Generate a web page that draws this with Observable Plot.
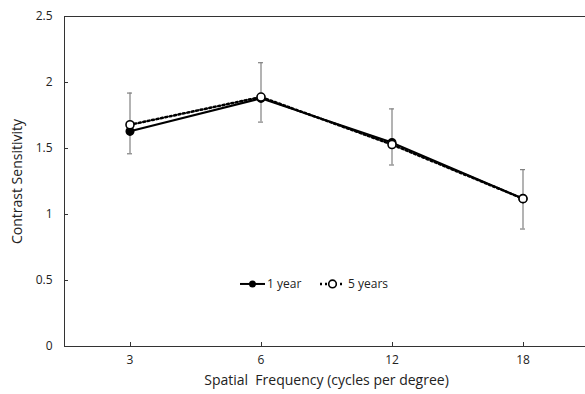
<!DOCTYPE html>
<html>
<head>
<meta charset="utf-8">
<script src="https://cdn.jsdelivr.net/npm/d3@7"></script>
<script src="https://cdn.jsdelivr.net/npm/@observablehq/plot@0.6"></script>
<style>
  html, body { margin: 0; padding: 0; background: #fff; overflow: hidden; }
  #chart svg { display: block; }
</style>
</head>
<body>
<div id="chart"></div>
<script>
const frequencies = ["3", "6", "12", "18"];
const year1 = [1.63, 1.88, 1.545, 1.12];
const year5 = [1.68, 1.89, 1.53, 1.12];
const errLow = [1.46, 1.70, 1.375, 0.89];
const errHigh = [1.92, 2.15, 1.80, 1.34];
const yTicks = [0, 0.5, 1, 1.5, 2, 2.5];
const seriesLabels = ["1 year", "5 years"];
const xTitle = "Spatial  Frequency (cycles per degree)";
const yTitle = "Contrast Sensitivity";

const rows1 = frequencies.map((f, i) => ({f, v: year1[i]}));
const rows5 = frequencies.map((f, i) => ({f, v: year5[i]}));
const errRows = frequencies.map((f, i) => ({f, lo: errLow[i], hi: errHigh[i]}));

const FONT = "'Open Sans', 'Noto Sans', sans-serif";
const W = 585, H = 394, ML = 64, MT = 16, MB = 48, MR = -3;
const BW = (W - MR - ML) / frequencies.length;
const capInset = (BW - 5) / 2;

// short inward tick marks, positioned through the plot's scales
function axisTicks(index, scales) {
  const g = d3.create("svg:g").attr("stroke", "#333").attr("stroke-width", 1);
  const x0 = scales.x(frequencies[0]);
  const y0 = scales.y(0);
  for (const t of yTicks) {
    const y = Math.round(scales.y(t)) + 0.5;
    g.append("line").attr("x1", x0).attr("x2", x0 + 4).attr("y1", y).attr("y2", y);
  }
  const bw = scales.x.bandwidth ? scales.x.bandwidth() : BW;
  for (const f of frequencies) {
    const x = Math.round(scales.x(f) + bw / 2) + 0.5;
    g.append("line").attr("x1", x).attr("x2", x).attr("y1", y0).attr("y2", y0 - 4);
  }
  return g.node();
}

function legend(index, scales) {
  const g = d3.create("svg:g").attr("font-family", FONT).attr("font-size", 12)
    .attr("fill", "#222").attr("text-anchor", "start");
  const y = scales.y(0.47);
  const x0 = 240;
  g.append("line").attr("x1", x0).attr("x2", x0 + 25).attr("y1", y).attr("y2", y)
    .attr("stroke", "#000").attr("stroke-width", 2);
  g.append("circle").attr("cx", x0 + 12.5).attr("cy", y).attr("r", 3.5).attr("fill", "#000");
  g.append("text").attr("x", x0 + 27).attr("y", y).attr("dy", "0.35em").text(seriesLabels[0]);
  const x1 = 320;
  g.append("line").attr("x1", x1).attr("x2", x1 + 25).attr("y1", y).attr("y2", y)
    .attr("stroke", "#000").attr("stroke-width", 2.5).attr("stroke-dasharray", "2,3");
  g.append("circle").attr("cx", x1 + 12.5).attr("cy", y).attr("r", 3.8).attr("fill", "#fff")
    .attr("stroke", "#000").attr("stroke-width", 1.6);
  g.append("text").attr("x", x1 + 28).attr("y", y).attr("dy", "0.35em").text(seriesLabels[1]);
  return g.node();
}

const plot = Plot.plot({
  width: W,
  height: H,
  marginLeft: ML,
  marginTop: MT,
  marginBottom: MB,
  marginRight: MR,
  style: {fontFamily: FONT, fontSize: "12px", color: "#222", background: "#fff"},
  x: {type: "band", domain: frequencies, padding: 0, axis: null},
  y: {domain: [0, 2.5], axis: null},
  marks: [
    Plot.ruleY([0, 2.5], {stroke: "#333", strokeWidth: 1}),
    Plot.ruleX([frequencies[0]], {x: d => d, dx: -BW / 2, stroke: "#333", strokeWidth: 1}),
    axisTicks,
    Plot.text(yTicks, {y: d => d, text: d => String(d), frameAnchor: "left", dx: -12, textAnchor: "end", fontSize: 12, fill: "#222"}),
    Plot.text(frequencies, {x: d => d, text: d => d, frameAnchor: "bottom", dy: 17, fontSize: 12, fill: "#222"}),
    Plot.ruleX(errRows, {x: "f", y1: "lo", y2: "hi", stroke: "#808080", strokeWidth: 1.2}),
    Plot.tickY(errRows, {x: "f", y: "lo", stroke: "#808080", strokeWidth: 1.2, insetLeft: capInset, insetRight: capInset}),
    Plot.tickY(errRows, {x: "f", y: "hi", stroke: "#808080", strokeWidth: 1.2, insetLeft: capInset, insetRight: capInset}),
    Plot.line(rows1, {x: "f", y: "v", stroke: "#000", strokeWidth: 2}),
    Plot.dot(rows1, {x: "f", y: "v", r: 3.8, fill: "#000", stroke: "#000"}),
    Plot.line(rows5, {x: "f", y: "v", stroke: "#000", strokeWidth: 2.5, strokeDasharray: "2,2.5"}),
    Plot.dot(rows5, {x: "f", y: "v", r: 4, fill: "#fff", stroke: "#000", strokeWidth: 1.6}),
    Plot.text([xTitle], {frameAnchor: "bottom", dy: 38, fontSize: 14, fill: "#222"}),
    Plot.text([yTitle], {frameAnchor: "left", dx: -47, rotate: -90, textAnchor: "middle", fontSize: 14, fill: "#222"}),
    legend
  ]
});
document.getElementById("chart").appendChild(plot);
</script>
</body>
</html>
